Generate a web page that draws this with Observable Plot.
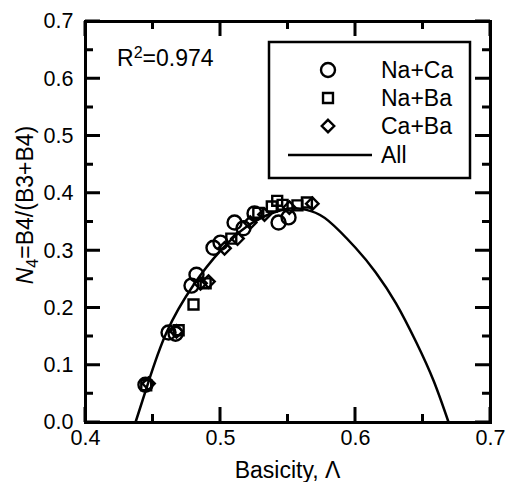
<!DOCTYPE html>
<html><head><meta charset="utf-8">
<script src="https://cdn.jsdelivr.net/npm/d3@7"></script>
<script src="https://cdn.jsdelivr.net/npm/@observablehq/plot@0.6"></script>
<style>body{margin:0;background:#fff} svg{display:block}</style>
</head><body><div id="chart"></div>
<script>
// ---- data ----
const naCaX = [0.4444, 0.4615, 0.4667, 0.4785, 0.4822, 0.4948, 0.5000, 0.5104, 0.5170, 0.5252, 0.5430, 0.5504];
const naCaY = [0.066, 0.157, 0.155, 0.239, 0.258, 0.305, 0.314, 0.349, 0.339, 0.365, 0.349, 0.358];
const naBaX = [0.4450, 0.4690, 0.4800, 0.4890, 0.5080, 0.5280, 0.5380, 0.5420, 0.5460, 0.5570, 0.5640];
const naBaY = [0.065, 0.161, 0.206, 0.243, 0.321, 0.366, 0.377, 0.387, 0.380, 0.379, 0.384];
const caBaX = [0.4467, 0.4674, 0.4852, 0.4911, 0.5030, 0.5126, 0.5220, 0.5326, 0.5510, 0.5680];
const caBaY = [0.068, 0.159, 0.243, 0.246, 0.304, 0.321, 0.349, 0.363, 0.375, 0.382];
const fitX = [0.437, 0.446, 0.460, 0.480, 0.500, 0.520, 0.540, 0.555, 0.567, 0.580, 0.600, 0.615, 0.630, 0.645, 0.658, 0.669];
const fitY = [0.000, 0.066, 0.157, 0.240, 0.300, 0.343, 0.367, 0.374, 0.369, 0.352, 0.305, 0.262, 0.208, 0.140, 0.072, 0.000];
const xTicks = [0.4, 0.5, 0.6, 0.7];
const xMinor = [0.45, 0.55, 0.65];
const yTicks = [0.0, 0.1, 0.2, 0.3, 0.4, 0.5, 0.6, 0.7];
const yMinor = [0.05, 0.15, 0.25, 0.35, 0.45, 0.55, 0.65];
const seriesNames = ["Na+Ca", "Na+Ba", "Ca+Ba", "All"];
const r2Text = "0.974";

const toPts = (xs, ys) => xs.map((x, i) => ({x, y: ys[i]}));
const naCa = toPts(naCaX, naCaY);
const naBa = toPts(naBaX, naBaY);
const caBa = toPts(caBaX, caBaY);
const fit = toPts(fitX, fitY);

const FONT = "'Liberation Sans', Arial, sans-serif";
const W = 510, H = 482, ML = 85, MR = 20, MT = 21, MB = 60;
const MAJ = 15, MIN = 8;
const dotOpts = {x: "x", y: "y", stroke: "black", strokeWidth: 2.4, fill: "none"};

const chart = Plot.plot({
  width: W, height: H,
  marginLeft: ML, marginRight: MR, marginTop: MT, marginBottom: MB,
  x: {domain: [0.4, 0.7]},
  y: {domain: [0, 0.7]},
  style: {fontFamily: FONT, color: "#000", background: "#fff"},
  marks: [
    Plot.axisX({ticks: xTicks, tickFormat: d => d.toFixed(1), tickSize: 0, tickPadding: 7, fontSize: 21.5, label: null}),
    Plot.axisY({ticks: yTicks, tickFormat: d => d.toFixed(1), tickSize: 0, tickPadding: 12, fontSize: 21.5, label: null}),
    Plot.line(fit, {x: "x", y: "y", curve: "natural", stroke: "black", strokeWidth: 2.5}),
    Plot.dot(naBa, {...dotOpts, symbol: "square", r: 5.6}),
    Plot.dot(caBa, {...dotOpts, symbol: "diamond2", r: 5.6}),
    Plot.dot(naCa, {...dotOpts, symbol: "circle", r: 7}),
    Plot.frame({stroke: "black", strokeWidth: 3})
  ]
});
document.getElementById("chart").appendChild(chart);

const sx = chart.scale("x"), sy = chart.scale("y");
const svg = d3.select(chart);

// inward ticks on all four sides, positioned through the plot's scales
const X0 = sx.apply(0.4), X1 = sx.apply(0.7), Y0 = sy.apply(0), Y1 = sy.apply(0.7);
let d = "";
const addX = (v, len) => { const X = sx.apply(v); d += `M${X},${Y0}V${Y0 - len}M${X},${Y1}V${Y1 + len}`; };
const addY = (v, len) => { const Y = sy.apply(v); d += `M${X0},${Y}H${X0 + len}M${X1},${Y}H${X1 - len}`; };
xTicks.forEach(v => addX(v, MAJ)); xMinor.forEach(v => addX(v, MIN));
yTicks.forEach(v => addY(v, MAJ)); yMinor.forEach(v => addY(v, MIN));
svg.append("path").attr("d", d).attr("fill", "none").attr("stroke", "#000").attr("stroke-width", 3);

const txt = (sel) => sel.attr("font-family", FONT).attr("font-size", 23).attr("fill", "black");

// axis titles
const yl = txt(svg.append("text")).attr("transform", "translate(33,205) rotate(-90)").attr("text-anchor", "middle");
yl.append("tspan").attr("font-style", "italic").text("N");
yl.append("tspan").attr("font-size", 16).attr("dy", 5).text("4");
yl.append("tspan").attr("dy", -5).text("=B4/(B3+B4)");

txt(svg.append("text")).attr("x", (X0 + X1) / 2).attr("y", 478)
  .attr("text-anchor", "middle").text("Basicity, Λ");

const r2 = txt(svg.append("text")).attr("x", 117).attr("y", 66).attr("text-anchor", "start");
r2.append("tspan").text("R");
r2.append("tspan").attr("font-size", 16).attr("dy", -8).text("2");
r2.append("tspan").attr("dy", 8).text("=" + r2Text);

// legend
const lg = svg.append("g");
lg.append("rect").attr("x", 269).attr("y", 42).attr("width", 201).attr("height", 136)
  .attr("fill", "white").attr("stroke", "black").attr("stroke-width", 2.5);
const rows = [70, 98, 126, 155];
const syms = [[d3.symbolCircle, 7], [d3.symbolSquare, 5.6], [d3.symbolDiamond2, 5.6]];
syms.forEach(([s, r], i) => {
  lg.append("path").attr("d", d3.symbol(s, Math.PI * r * r)())
    .attr("transform", `translate(328,${rows[i]})`)
    .attr("fill", "none").attr("stroke", "black").attr("stroke-width", 2.4);
});
lg.append("line").attr("x1", 288).attr("x2", 372).attr("y1", rows[3]).attr("y2", rows[3])
  .attr("stroke", "black").attr("stroke-width", 2.5);
seriesNames.forEach((n, i) => {
  txt(lg.append("text")).attr("x", 381).attr("y", rows[i]).attr("dy", "0.36em")
    .attr("text-anchor", "start").text(n);
});
</script>
</body></html>
